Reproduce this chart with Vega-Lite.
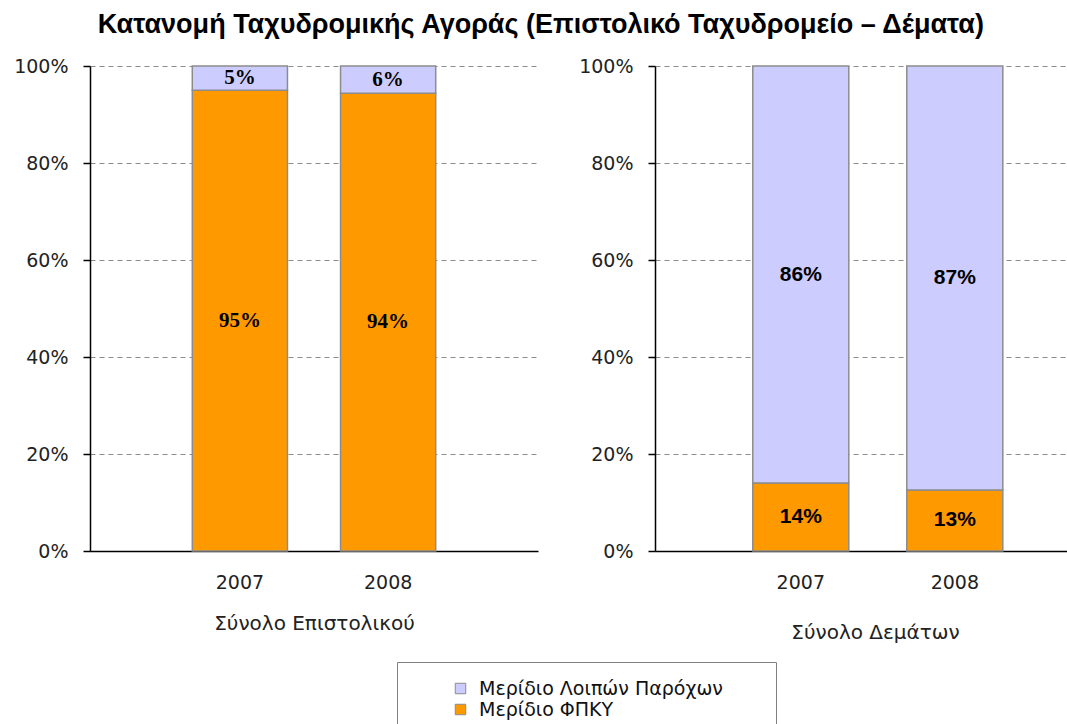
{
  "$schema": "https://vega.github.io/schema/vega-lite/v6.json",
  "padding": {"left": 13, "top": 11, "right": 0, "bottom": 0},
  "background": "white",
  "title": {
    "text": "Κατανομή Ταχυδρομικής Αγοράς (Επιστολικό Ταχυδρομείο – Δέματα)",
    "font": "Liberation Sans",
    "fontSize": 27,
    "fontWeight": "bold",
    "color": "black",
    "anchor": "middle",
    "offset": 18
  },
  "datasets": {
    "letters": [
      {"year": "2007", "series": "Μερίδιο ΦΠΚΥ", "value": 0.95},
      {"year": "2007", "series": "Μερίδιο Λοιπών Παρόχων", "value": 0.05},
      {"year": "2008", "series": "Μερίδιο ΦΠΚΥ", "value": 0.944},
      {"year": "2008", "series": "Μερίδιο Λοιπών Παρόχων", "value": 0.056}
    ],
    "parcels": [
      {"year": "2007", "series": "Μερίδιο ΦΠΚΥ", "value": 0.14},
      {"year": "2007", "series": "Μερίδιο Λοιπών Παρόχων", "value": 0.86},
      {"year": "2008", "series": "Μερίδιο ΦΠΚΥ", "value": 0.126},
      {"year": "2008", "series": "Μερίδιο Λοιπών Παρόχων", "value": 0.874}
    ]
  },
  "spacing": 40,
  "hconcat": [
    {
      "width": 448,
      "height": 485,
      "data": {"name": "letters"},
      "transform": [
        {"stack": "value", "groupby": ["year"], "sort": [{"field": "series", "order": "descending"}], "as": ["v0", "v1"]},
        {"calculate": "(datum.v0 + datum.v1) / 2", "as": "mid"}
      ],
      "encoding": {
        "x": {
          "field": "year", "type": "nominal",
          "scale": {"paddingInner": 0.358, "paddingOuter": 0.69},
          "axis": {"title": "Σύνολο Επιστολικού", "labelAngle": 0, "ticks": false, "titlePadding": 21}
        }
      },
      "layer": [
        {
          "mark": {"type": "bar", "stroke": "#8c8c8c", "strokeWidth": 1.5},
          "encoding": {
            "y": {"field": "v0", "type": "quantitative", "scale": {"domain": [0, 1]},
              "axis": {"title": null, "format": ".0%", "values": [0, 0.2, 0.4, 0.6, 0.8, 1], "grid": true}},
            "y2": {"field": "v1"},
            "color": {
              "field": "series", "type": "nominal",
              "scale": {"domain": ["Μερίδιο Λοιπών Παρόχων", "Μερίδιο ΦΠΚΥ"], "range": ["#CCCCFF", "#FF9900"]},
              "legend": {
                "title": " ", "titleOrient": "right", "titlePadding": 36,
                "orient": "none", "legendX": 307, "legendY": 596,
                "direction": "vertical",
                "symbolType": "square", "symbolSize": 110, "symbolStrokeColor": "#808080", "symbolStrokeWidth": 1,
                "symbolOffset": 37, "labelOffset": 9, "labelLimit": 500,
                "labelFont": "DejaVu Sans", "labelFontSize": 19, "labelColor": "#111",
                "strokeColor": "#808080", "fillColor": "white", "padding": 17, "rowPadding": 1
              }
            }
          }
        },
        {
          "mark": {"type": "text", "font": "Liberation Serif", "fontWeight": "bold", "fontSize": 21, "color": "black", "baseline": "middle"},
          "encoding": {
            "y": {"field": "mid", "type": "quantitative"},
            "text": {"field": "value", "type": "quantitative", "format": ".0%"}
          }
        }
      ]
    },
    {
      "width": 413,
      "height": 485,
      "data": {"name": "parcels"},
      "transform": [
        {"stack": "value", "groupby": ["year"], "sort": [{"field": "series", "order": "descending"}], "as": ["v0", "v1"]},
        {"calculate": "(datum.v0 + datum.v1) / 2", "as": "mid"}
      ],
      "encoding": {
        "x": {
          "field": "year", "type": "nominal",
          "scale": {"paddingInner": 0.3766, "paddingOuter": 0.529, "align": 0.6},
          "axis": {"title": "Σύνολο Δεμάτων", "labelAngle": 0, "ticks": false, "titleX": 220, "titleAlign": "center", "titlePadding": 30}
        }
      },
      "layer": [
        {
          "mark": {"type": "bar", "stroke": "#8c8c8c", "strokeWidth": 1.5},
          "encoding": {
            "y": {"field": "v0", "type": "quantitative", "scale": {"domain": [0, 1]},
              "axis": {"title": null, "format": ".0%", "values": [0, 0.2, 0.4, 0.6, 0.8, 1], "grid": true}},
            "y2": {"field": "v1"},
            "color": {
              "field": "series", "type": "nominal",
              "scale": {"domain": ["Μερίδιο Λοιπών Παρόχων", "Μερίδιο ΦΠΚΥ"], "range": ["#CCCCFF", "#FF9900"]}
            }
          }
        },
        {
          "mark": {"type": "text", "font": "Liberation Sans", "fontWeight": "bold", "fontSize": 21, "color": "black", "baseline": "middle"},
          "encoding": {
            "y": {"field": "mid", "type": "quantitative"},
            "text": {"field": "value", "type": "quantitative", "format": ".0%"}
          }
        }
      ]
    }
  ],
  "config": {
    "view": {"stroke": null},
    "axis": {
      "labelFont": "DejaVu Sans", "labelFontSize": 19, "labelColor": "#222",
      "titleFont": "DejaVu Sans", "titleFontSize": 20, "titleFontWeight": "normal", "titleColor": "#222",
      "domainColor": "black", "domainWidth": 1.5, "tickColor": "black", "tickWidth": 1.5
    },
    "axisY": {
      "tickSize": 7, "labelPadding": 15,
      "gridColor": "#8c8c8c", "gridDash": [5, 4], "gridWidth": 1
    },
    "axisX": {"grid": false, "labelPadding": 22}
  }
}
